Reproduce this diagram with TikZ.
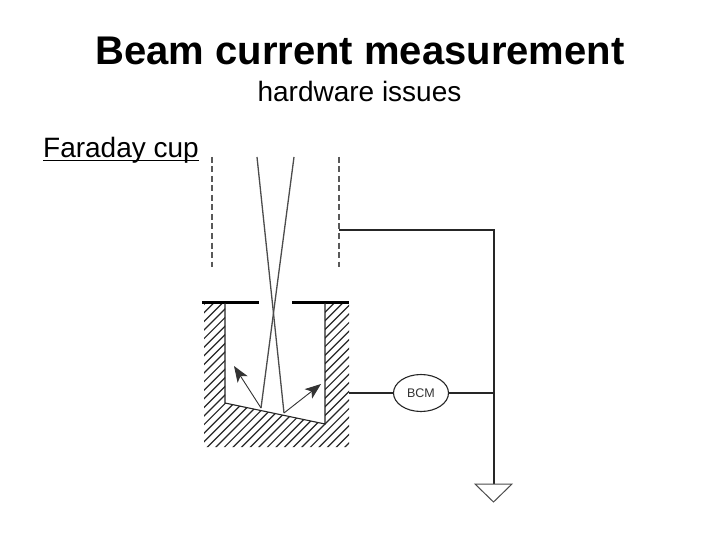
\documentclass[tikz,border=0pt]{standalone}
\usepackage{fontspec}
\setmainfont{Liberation Sans}
\usetikzlibrary{arrows.meta,shapes.geometric}
\tikzset{
  wire/.style={draw=black!85,line width=1.1pt},
  thick bar/.style={draw=black,line width=2.6pt},
  beam/.style={draw=black!70,line width=1.3pt},
  dashwire/.style={draw=black!65,line width=1.3pt,dash pattern=on 6pt off 3.5pt},
  hatchline/.style={draw=black!85,line width=1.2pt},
  arrowline/.style={draw=black!80,line width=.9pt,-{Stealth[length=16pt,width=12pt,inset=4pt]}},
  meter/.style={ellipse,draw=black!85,line width=1.1pt,minimum width=55pt,minimum height=37pt,inner sep=0pt,font=\fontsize{12.5}{15}\selectfont,text=black!80},
  label/.style={anchor=base,inner sep=0pt}
}
\begin{document}
\begin{tikzpicture}[x=1pt,y=-1pt]
\useasboundingbox (0,0) rectangle (720,540);
\fill[white] (0,0) rectangle (720,540);
\node[label,font=\bfseries\fontsize{40}{44}\selectfont] (title) at (360,65) {Beam current measurement};
\node[label,font=\fontsize{28}{32}\selectfont] (sub) at (359.5,102) {hardware issues};
\node[label,font=\fontsize{28}{32}\selectfont] (cup) at (121,158) {Faraday cup};
\draw[black,line width=1.3pt] (43,160.5) -- (199,160.5);
% hatch
\begin{scope}
\clip (204,303) -- (225,303) -- (225,403) -- (325,424) -- (325,303) -- (349,303) -- (349,447) -- (204,447) -- cycle;
\foreach \k in {-170,-161.4,...,170} {
  \draw[hatchline] (204+\k,457) -- (204+\k+154,303);
}
\end{scope}
% coordinates
\coordinate (dlt) at (212,157); \coordinate (dlb) at (212,267);
\coordinate (drt) at (339,157); \coordinate (drb) at (339,267);
\coordinate (tap) at (339,230); \coordinate (corner) at (494,230);
\coordinate (junction) at (494,393); \coordinate (gnd) at (494,484);
\coordinate (cupout) at (349,393);
\coordinate (g1) at (475,484); \coordinate (g2) at (512,484); \coordinate (g3) at (493.5,502);
\coordinate (b1) at (257,157); \coordinate (b1e) at (284,413);
\coordinate (b2) at (294,157); \coordinate (b2e) at (261,408);
\coordinate (a1) at (234,366); \coordinate (a2) at (321,384);
\coordinate (wtl) at (225,303); \coordinate (wbl) at (225,403);
\coordinate (wtr) at (325,303); \coordinate (wbr) at (325,424);
\node[meter] (bcm) at (421,393) {BCM};
% dashed tube
\draw[dashwire] (dlt) -- (dlb);
\draw[dashwire] (drt) -- (drb);
% bars
\draw[thick bar] (202,302.7) -- (259,302.7);
\draw[thick bar] (292,302.7) -- (349,302.7);
% cup walls
\draw[wire] (wtl) -- (wbl) -- (wbr) -- (wtr);
% beam
\draw[beam] (b1) -- (b1e);
\draw[beam] (b2) -- (b2e);
% arrows
\draw[arrowline] (b2e) -- (a1);
\draw[arrowline] (b1e) -- (a2);
% circuit
\draw[wire] (tap) -- (corner) -- (gnd);
\draw[wire] (cupout) -- (bcm);
\draw[wire] (bcm) -- (junction);
\draw[draw=black!70,line width=1pt] (g1) -- (g2) -- (g3) -- cycle;
\end{tikzpicture}
\end{document}
